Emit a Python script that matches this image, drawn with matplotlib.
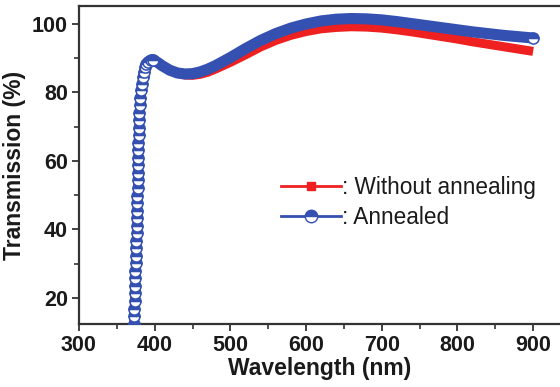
import matplotlib
matplotlib.use("Agg")
import matplotlib.pyplot as plt
from matplotlib.lines import Line2D

wl_edge = [372.4, 372.7, 373.0, 373.4, 373.7, 374.0, 374.3, 374.6, 375.0, 375.3, 375.6, 375.9,
           376.2, 376.5, 376.7, 376.9, 377.1, 377.3, 377.4, 377.6, 377.7, 377.9, 378.0, 378.2,
           378.4, 378.7, 379.0, 379.4, 379.9, 380.5, 381.2, 382.0, 383.0, 384.2, 385.6, 387.2,
           389.2, 391.6, 394.6, 398.0]
t_edge = [12.5, 14.7, 16.9, 19.1, 21.3, 23.5, 25.7, 27.9, 30.1, 32.3, 34.5, 36.7,
          38.9, 41.1, 43.3, 45.5, 47.7, 49.9, 52.1, 54.3, 56.5, 58.7, 60.9, 63.1,
          65.3, 67.5, 69.7, 71.9, 74.1, 76.3, 78.5, 80.6, 82.6, 84.4, 86.0, 87.3,
          88.3, 89.0, 89.4, 89.5]

wl_blue = wl_edge + [400, 405, 410, 420, 430, 440, 450, 460, 470, 480, 500, 520, 540, 560, 580,
                     600, 620, 640, 660, 680, 700, 720, 740, 760, 780, 800, 820, 840, 860, 880, 900]
t_blue = t_edge + [89.3, 88.6, 87.8, 86.5, 85.7, 85.4, 85.5, 86.0, 86.8, 87.8, 90.2, 92.8, 95.2, 97.2, 98.8,
                   100.0, 100.9, 101.4, 101.6, 101.5, 101.2, 100.7, 100.1, 99.5, 98.9, 98.3, 97.7, 97.2, 96.7, 96.3, 95.9]

wl_red = wl_edge + [400, 405, 410, 420, 430, 440, 450, 460, 470, 480, 500, 520, 540, 560, 580,
                    600, 620, 640, 660, 680, 700, 720, 740, 760, 780, 800, 820, 840, 860, 880, 900]
t_red = t_edge + [89.3, 88.6, 87.8, 86.5, 85.6, 85.1, 85.0, 85.3, 85.9, 86.8, 88.8, 91.0, 93.3, 95.2, 96.7,
                  97.8, 98.6, 99.0, 99.2, 99.1, 98.8, 98.3, 97.7, 97.0, 96.3, 95.6, 94.8, 94.1, 93.4, 92.7, 92.0]

xticks = [300, 400, 500, 600, 700, 800, 900]
yticks = [20, 40, 60, 80, 100]
labels = [": Without annealing", ": Annealed"]

RED = "#ee2020"
BLUE = "#3450b0"
INK = "#1a1a1a"
n_edge = len(wl_edge)

plt.rcParams['font.family'] = ['Liberation Sans', 'DejaVu Sans']

fig = plt.figure(figsize=(5.6, 3.87), dpi=100)
ax = fig.add_axes([0.141, 0.163, 0.859, 0.821])

ax.plot(wl_red, t_red, color=RED, lw=6.5, solid_capstyle='butt', zorder=2)
ax.plot(wl_blue[n_edge - 4:], t_blue[n_edge - 4:], color=BLUE, lw=8,
        solid_capstyle='butt', zorder=3)
mk = dict(ls='none', marker='o', ms=8, fillstyle='top', color=BLUE,
          markerfacecoloralt='white', markeredgecolor=BLUE, markeredgewidth=1.1, zorder=4)
ax.plot(wl_blue[:n_edge], t_blue[:n_edge], **mk)
ax.plot(wl_blue[-1:], t_blue[-1:], **mk)

ax.set_xlim(300, 935.5)
ax.set_ylim(12.4, 105.2)
ax.set_xticks(xticks)
ax.set_yticks(yticks)
ax.set_xticks([350, 450, 550, 650, 750, 850], minor=True)
ax.set_yticks([30, 50, 70, 90], minor=True)
ax.spines['right'].set_visible(False)
for s in ['left', 'bottom', 'top']:
    ax.spines[s].set_linewidth(1.6)
    ax.spines[s].set_color('#333333')
ax.tick_params(which='major', direction='out', length=5, width=1.3, color='#333333',
               labelsize=15.5, pad=3)
ax.tick_params(which='minor', direction='out', length=3.5, width=1.2, color='#333333')
ax.tick_params(top=False, which='both')
for lab in ax.get_xticklabels() + ax.get_yticklabels():
    lab.set_fontweight('bold')
    lab.set_color(INK)

ax.set_xlabel("Wavelength (nm)", fontsize=16.5, fontweight='bold', color=INK, labelpad=1)
ax.set_ylabel("Transmission (%)", fontsize=16.5, fontweight='bold', color=INK, labelpad=4)

h1 = Line2D([], [], color=RED, lw=2, marker='s', ms=6)
h2 = Line2D([], [], color=BLUE, lw=2, marker='o', ms=9, fillstyle='top',
            markerfacecoloralt='white', markeredgewidth=1)
leg = ax.legend([h1, h2], labels, loc='upper left', bbox_to_anchor=(0.419, 0.467),
                frameon=False, fontsize=16.3, handlelength=2.65, handletextpad=0.05,
                labelspacing=0.33, borderaxespad=0, borderpad=0)
for t in leg.get_texts():
    t.set_color(INK)

fig.savefig("out.png", dpi=100)
